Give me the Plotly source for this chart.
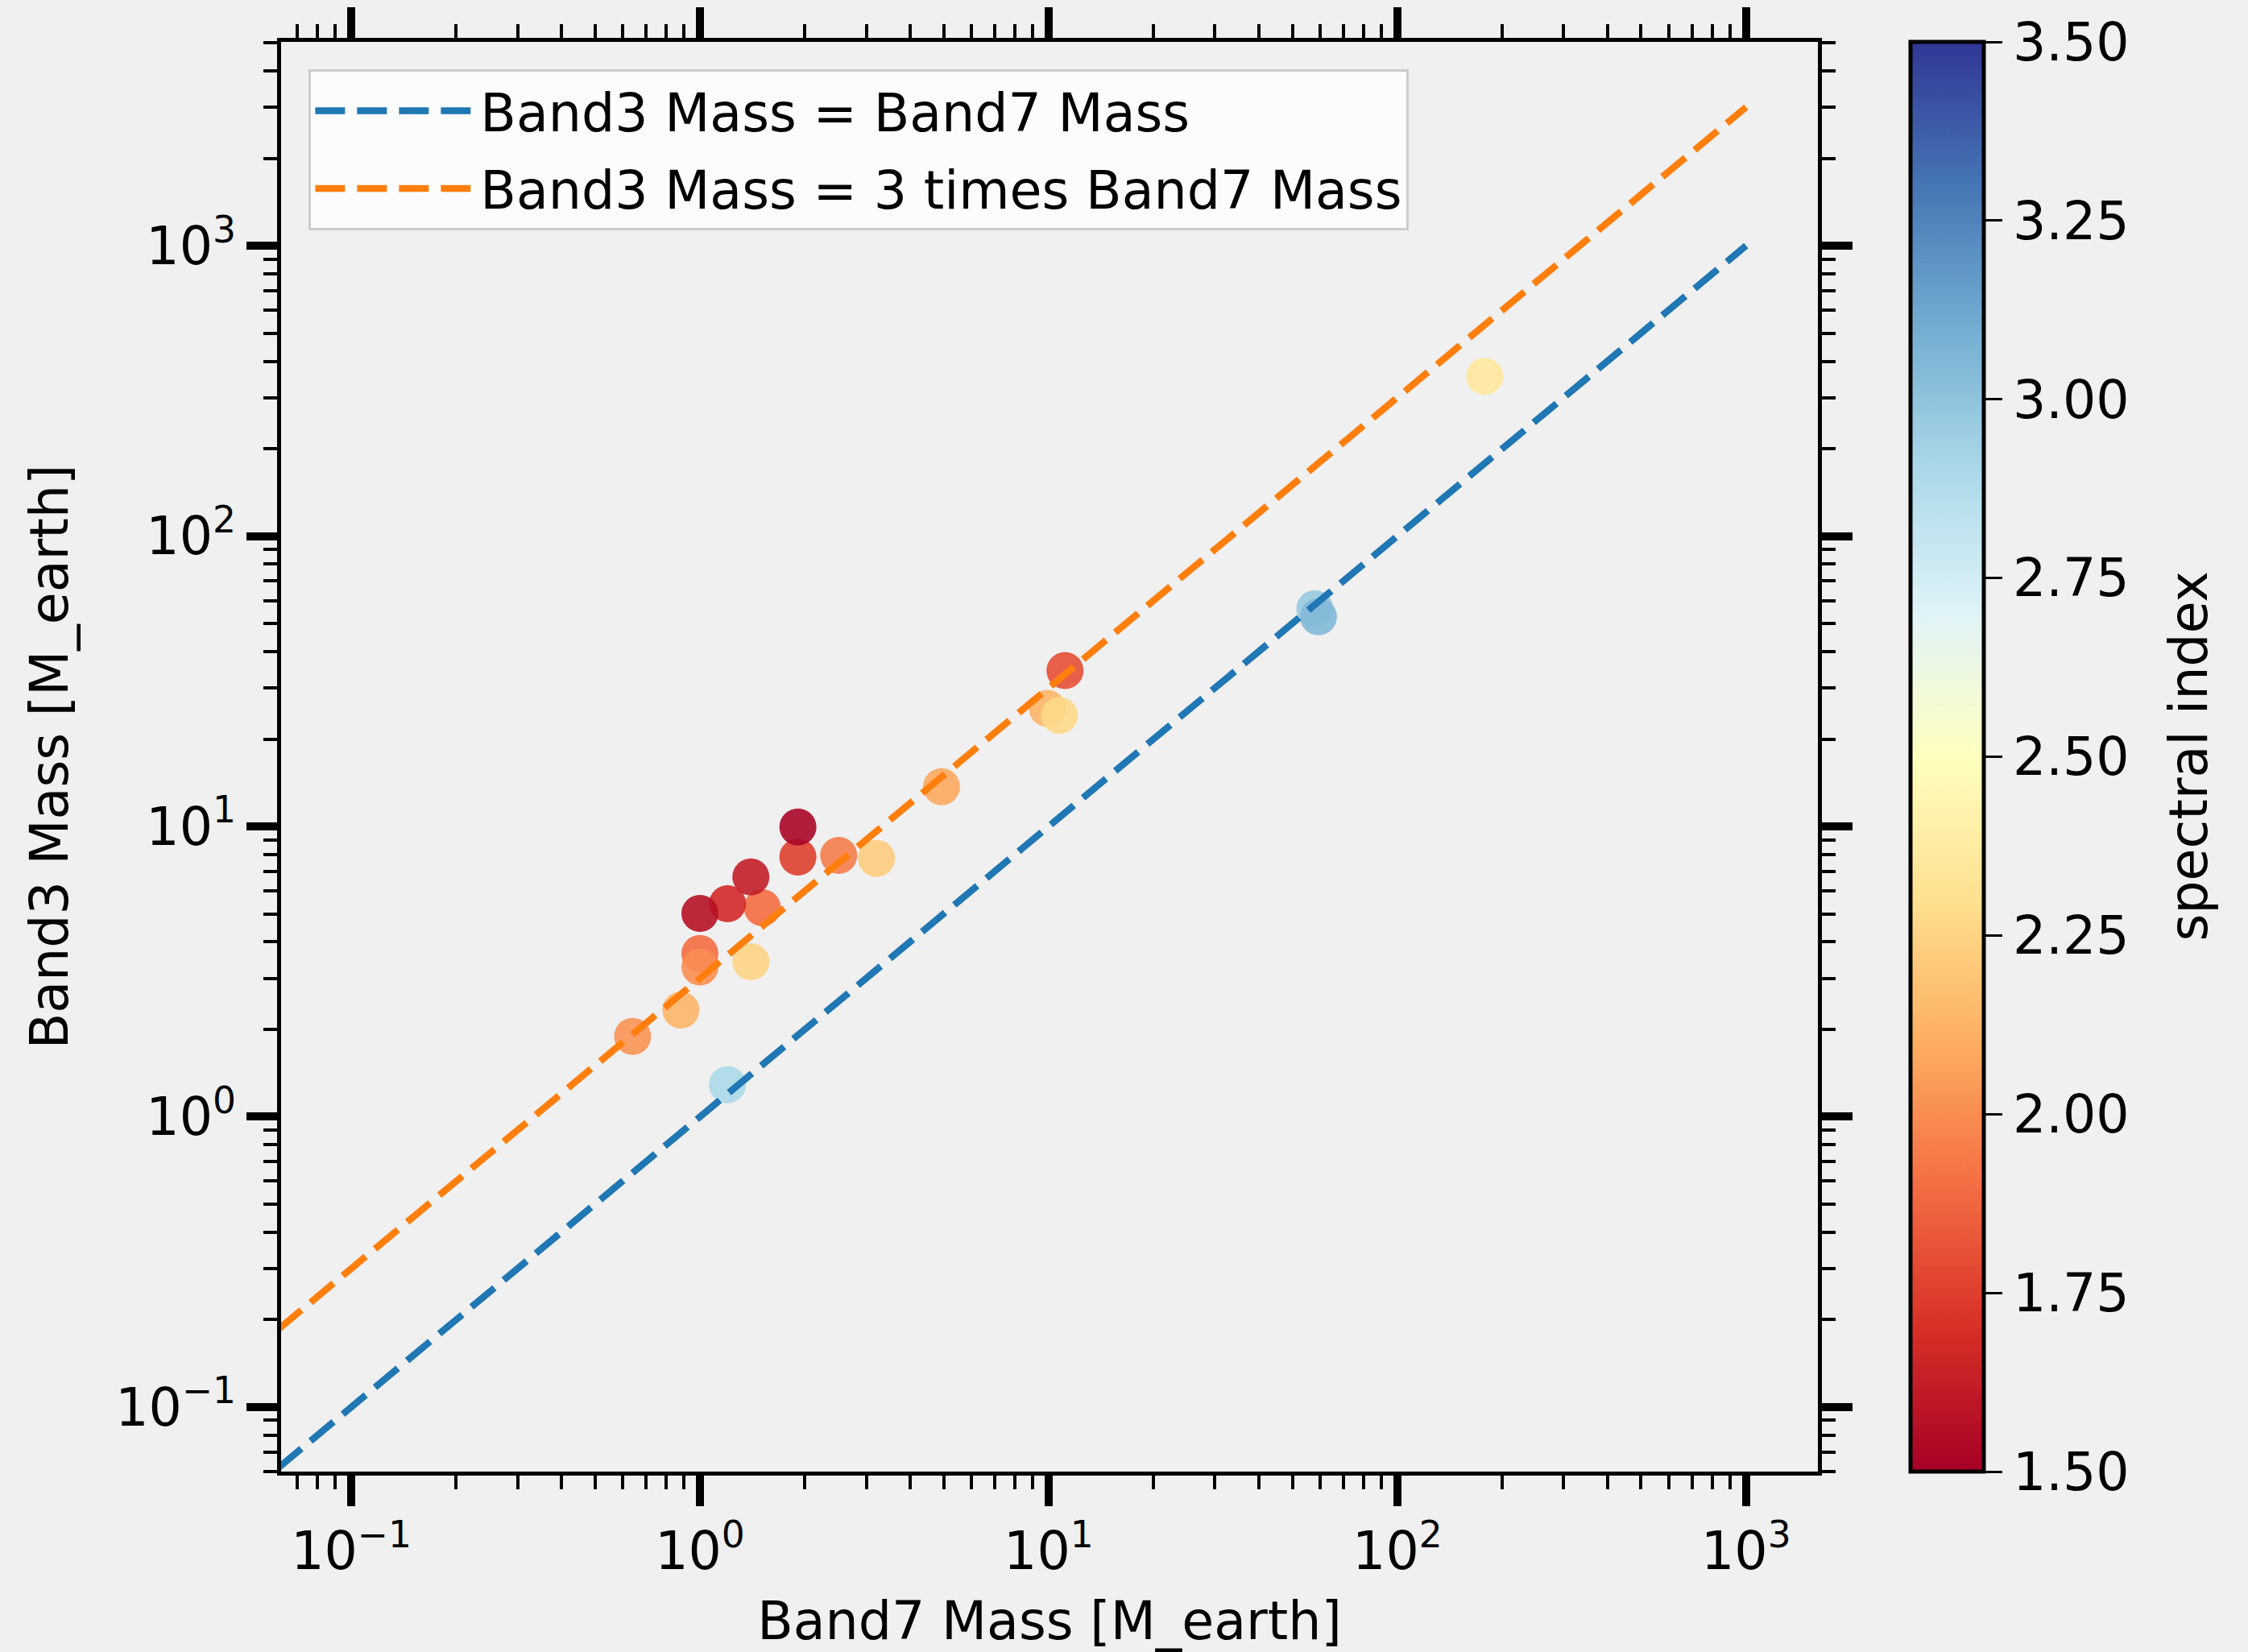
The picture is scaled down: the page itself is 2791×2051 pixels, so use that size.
import plotly.graph_objects as go

# ---- data ----
band7_mass = [0.641, 0.882, 1.00, 1.00, 1.00, 1.20, 1.40, 1.51, 1.40, 1.20,
              1.91, 1.91, 2.50, 3.21, 4.93, 11.14, 9.92, 10.74, 58.0, 59.4, 178.0]
band3_mass = [1.89, 2.33, 3.28, 3.65, 5.02, 5.42, 6.70, 5.25, 3.42, 1.29,
              9.95, 7.85, 7.95, 7.76, 13.7, 34.4, 25.5, 24.1, 56.2, 52.7, 355.0]
spectral_index = [2.02, 2.13, 2.00, 1.90, 1.57, 1.67, 1.62, 1.90, 2.25, 2.90,
                  1.52, 1.75, 1.95, 2.22, 2.08, 1.80, 2.13, 2.27, 2.97, 3.05, 2.35]

# draw order (as in the reference overlaps)
order = [0, 1, 9, 3, 2, 7, 5, 4, 6, 8, 11, 10, 12, 13, 14, 16, 17, 15, 18, 19, 20]

line_x = [0.05, 1000.0]
line_equal_y = [0.05, 1000.0]
line_triple_y = [0.15, 3000.0]

major_vals = [0.1, 1, 10, 100, 1000]
major_text = ["10<sup>\u22121</sup>", "10<sup>0</sup>", "10<sup>1</sup>",
              "10<sup>2</sup>", "10<sup>3</sup>"]
cbar_vals = [1.5, 1.75, 2.0, 2.25, 2.5, 2.75, 3.0, 3.25, 3.5]

minor_vals = [m * 10.0 ** e for e in range(-2, 4) for m in range(2, 10)]

FONT = "DejaVu Sans"
FS = 65
BG = "#f0f0f0"

fig = go.Figure()

fig.add_trace(go.Scatter(
    x=[band7_mass[i] for i in order],
    y=[band3_mass[i] for i in order],
    mode="markers",
    showlegend=False,
    marker=dict(
        size=46,
        color=[spectral_index[i] for i in order],
        colorscale="RdYlBu",
        cmin=1.5, cmax=3.5,
        opacity=0.9,
        line=dict(width=0),
        colorbar=dict(
            x=1.0603, xanchor="left", xpad=0,
            y=0.5, yanchor="middle", ypad=0,
            len=1.0, lenmode="fraction",
            thickness=91, thicknessmode="pixels",
            outlinewidth=5, outlinecolor="black",
            ticks="outside", ticklen=21, tickwidth=3, tickcolor="black",
            tickvals=cbar_vals, tickformat=".2f", tickprefix="\u00a0\u00a0",
            tickfont=dict(family=FONT, size=FS, color="black"),
        ),
    ),
))

fig.add_trace(go.Scatter(
    x=line_x, y=line_equal_y, mode="lines",
    name="Band3 Mass = Band7 Mass", legendgroup="a",
    line=dict(color="#1f77b4", width=8.5, dash="37px,15px"),
))
fig.add_trace(go.Scatter(
    x=line_x, y=line_triple_y, mode="lines",
    name="Band3 Mass = 3 times Band7 Mass", legendgroup="b",
    line=dict(color="#ff7f0e", width=8.5, dash="37px,15px"),
))

axis_common = dict(
    type="log", automargin=False,
    showgrid=False, zeroline=False,
    showline=True, linewidth=5, linecolor="black",
    mirror="allticks",
    ticks="outside", ticklen=38, tickwidth=10, tickcolor="black",
    tickmode="array", tickvals=major_vals, ticktext=major_text,
    tickfont=dict(family=FONT, size=FS, color="black"),
    minor=dict(tickmode="array", tickvals=minor_vals, ticks="outside",
               ticklen=17, tickwidth=4, tickcolor="black", showgrid=False),
)

fig.update_layout(
    width=2791, height=2051,
    margin=dict(l=349, r=534, t=52, b=224, autoexpand=False),
    paper_bgcolor=BG, plot_bgcolor=BG,
    font=dict(family=FONT, size=FS, color="black"),
    xaxis=dict(axis_common, range=[-1.201, 3.206],
               title=dict(text="Band7 Mass [M_earth]", standoff=40,
                          font=dict(family=FONT, size=FS, color="black"))),
    yaxis=dict(axis_common, range=[-1.222, 3.702],
               title=dict(text="Band3 Mass [M_earth]", standoff=39,
                          font=dict(family=FONT, size=FS, color="black"))),
    legend=dict(
        x=0.018, y=0.981, xanchor="left", yanchor="top",
        bgcolor="rgba(255,255,255,0.8)", bordercolor="#cccccc", borderwidth=3,
        font=dict(family=FONT, size=FS, color="black"),
        itemwidth=200, tracegroupgap=9,
    ),
    annotations=[dict(
        text="spectral index", xref="paper", yref="paper",
        x=(2717 - 349) / 1908, y=0.5, xanchor="center", yanchor="middle",
        textangle=-90, showarrow=False,
        font=dict(family=FONT, size=FS, color="black"),
    )],
)

fig.write_html("out.html")
